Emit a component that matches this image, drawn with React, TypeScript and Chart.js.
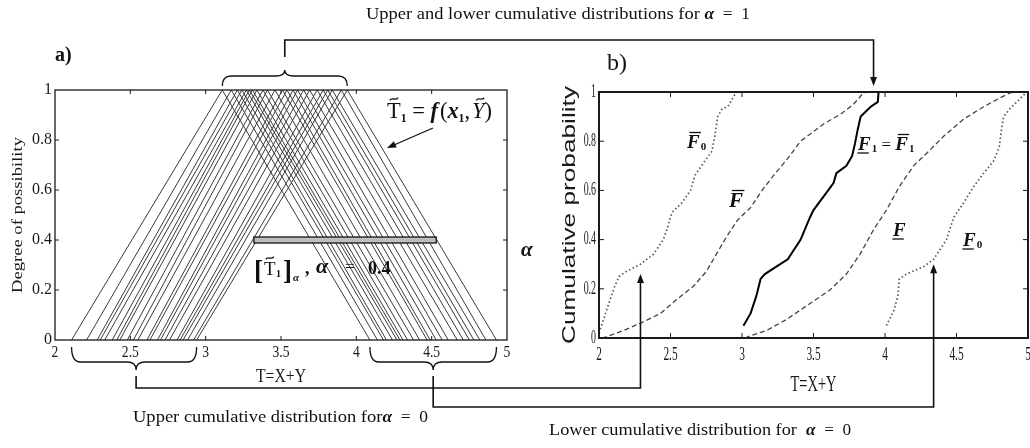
import React, { useEffect, useRef } from "react";
import { Chart, registerables } from "chart.js";

Chart.register(...registerables);

const FIG_W = 1030;
const FIG_H = 448;
const SERIF = '"Liberation Serif", "Times New Roman", serif';
const SANS = '"Liberation Sans", Arial, sans-serif';

// ---------- Panel a): triangular possibility distributions (left foot, apex, right foot) ----------
const triLeft = [2.11, 2.21, 2.28, 2.30, 2.33, 2.38, 2.41, 2.43, 2.48, 2.52, 2.55, 2.61, 2.63, 2.68, 2.70, 2.73, 2.76, 2.81, 2.83, 2.85, 2.88, 2.92, 2.94];
const triApex = [3.11, 3.17, 3.21, 3.24, 3.27, 3.29, 3.31, 3.34, 3.38, 3.41, 3.46, 3.51, 3.54, 3.58, 3.61, 3.65, 3.69, 3.74, 3.78, 3.81, 3.84, 3.90, 3.94];
const triRight = [4.09, 4.14, 4.18, 4.20, 4.24, 4.27, 4.29, 4.31, 4.34, 4.38, 4.42, 4.47, 4.49, 4.53, 4.57, 4.61, 4.67, 4.71, 4.75, 4.78, 4.82, 4.86, 4.93];
const alphaLevel = 0.4;
const alphaCut = [3.32, 4.53];

// ---------- Axis ticks ----------
const xTicks = [2, 2.5, 3, 3.5, 4, 4.5, 5];
const xTickLabels = ["2", "2.5", "3", "3.5", "4", "4.5", "5"];
const yTicks = [0, 0.2, 0.4, 0.6, 0.8, 1];
const yTickLabels = ["0", "0.2", "0.4", "0.6", "0.8", "1"];

// ---------- Panel b): cumulative distributions ----------
const upper0T = [2.00, 2.04, 2.08, 2.11, 2.14, 2.19, 2.29, 2.38, 2.45, 2.48, 2.51, 2.58, 2.64, 2.67, 2.74, 2.79, 2.81, 2.83, 2.86, 2.90, 2.95, 2.97];
const upper0P = [0.02, 0.09, 0.16, 0.21, 0.25, 0.27, 0.30, 0.34, 0.40, 0.45, 0.51, 0.55, 0.60, 0.66, 0.72, 0.76, 0.82, 0.90, 0.93, 0.94, 0.99, 1.00];

const upperT = [2.02, 2.05, 2.17, 2.29, 2.43, 2.54, 2.66, 2.75, 2.82, 2.89, 2.97, 3.06, 3.14, 3.22, 3.32, 3.41, 3.48, 3.57, 3.69, 3.78, 3.84, 3.87];
const upperP = [0.00, 0.005, 0.03, 0.06, 0.10, 0.155, 0.21, 0.27, 0.34, 0.41, 0.48, 0.53, 0.60, 0.66, 0.73, 0.80, 0.83, 0.87, 0.91, 0.95, 0.99, 1.00];

const oneT = [3.01, 3.06, 3.10, 3.13, 3.16, 3.24, 3.32, 3.41, 3.475, 3.50, 3.57, 3.64, 3.66, 3.73, 3.77, 3.79, 3.81, 3.83, 3.90, 3.95, 3.955];
const oneP = [0.05, 0.10, 0.17, 0.24, 0.26, 0.29, 0.32, 0.40, 0.49, 0.52, 0.575, 0.63, 0.67, 0.70, 0.74, 0.79, 0.85, 0.90, 0.94, 0.96, 1.00];

const lowerT = [3.02, 3.04, 3.17, 3.31, 3.475, 3.615, 3.73, 3.825, 3.92, 4.01, 4.10, 4.20, 4.29, 4.41, 4.55, 4.69, 4.80, 4.87, 4.90];
const lowerP = [0.00, 0.005, 0.03, 0.075, 0.14, 0.195, 0.26, 0.34, 0.44, 0.52, 0.615, 0.70, 0.75, 0.82, 0.89, 0.94, 0.975, 0.995, 1.00];

const lower0T = [4.01, 4.06, 4.09, 4.10, 4.15, 4.27, 4.34, 4.43, 4.48, 4.55, 4.62, 4.69, 4.76, 4.80, 4.815, 4.83, 4.87, 4.94, 4.99];
const lower0P = [0.05, 0.11, 0.17, 0.24, 0.26, 0.29, 0.32, 0.40, 0.49, 0.55, 0.615, 0.67, 0.72, 0.78, 0.85, 0.90, 0.93, 0.97, 1.00];

// Annotation anchors (in data units of panel b)
const alpha1ArrowT = 3.92;
const upperAlpha0ArrowT = 2.29;
const upperAlpha0ArrowP = 0.26;
const lowerAlpha0ArrowT = 4.34;
const lowerAlpha0ArrowP = 0.30;

// ---------- helpers ----------
function pts(xs: number[], ys: number[]) {
  return xs.map((x, i) => ({ x, y: ys[i] }));
}

function labelFor(vals: number[], labels: string[], v: number) {
  const i = vals.findIndex((t) => Math.abs(t - v) < 1e-6);
  return i >= 0 ? labels[i] : "";
}

function drawScaled(ctx: CanvasRenderingContext2D, text: string, x: number, y: number, font: string, sx: number, align: CanvasTextAlign) {
  ctx.save();
  ctx.translate(x, y);
  ctx.scale(sx, 1);
  ctx.font = font;
  ctx.textAlign = align;
  ctx.textBaseline = "middle";
  ctx.fillText(text, 0, 0);
  ctx.restore();
}

function drawFit(ctx: CanvasRenderingContext2D, text: string, x: number, y: number, font: string, width: number, rot: number) {
  ctx.save();
  ctx.font = font;
  const w = ctx.measureText(text).width;
  ctx.translate(x, y);
  ctx.rotate(rot);
  ctx.scale(width / w, 1);
  ctx.textAlign = "center";
  ctx.textBaseline = "middle";
  ctx.fillText(text, 0, 0);
  ctx.restore();
}

type Seg = { t: string; font: string; dx?: number; dy?: number; over?: boolean; under?: boolean; tilde?: boolean };

function drawRich(ctx: CanvasRenderingContext2D, segs: Seg[], x: number, y: number, opts: { width?: number; align?: "left" | "center" } = {}) {
  ctx.save();
  let total = 0;
  const widths = segs.map((s) => {
    ctx.font = s.font;
    const w = ctx.measureText(s.t).width;
    total += w + (s.dx || 0);
    return w;
  });
  const sx = opts.width ? opts.width / total : 1;
  ctx.translate(x, y);
  ctx.scale(sx, 1);
  let cx = opts.align === "center" ? -total / 2 : 0;
  ctx.textAlign = "left";
  ctx.textBaseline = "alphabetic";
  ctx.lineWidth = 1.3;
  segs.forEach((s, i) => {
    cx += s.dx || 0;
    ctx.font = s.font;
    const dy = s.dy || 0;
    ctx.fillText(s.t, cx, dy);
    const w = widths[i];
    const m = ctx.measureText(s.t);
    const asc = m.actualBoundingBoxAscent;
    if (s.over) {
      ctx.beginPath();
      ctx.moveTo(cx + w * 0.2, dy - asc - 2.5);
      ctx.lineTo(cx + w * 1.1, dy - asc - 2.5);
      ctx.stroke();
    }
    if (s.under) {
      ctx.beginPath();
      ctx.moveTo(cx - w * 0.05, dy + 3);
      ctx.lineTo(cx + w * 0.85, dy + 3);
      ctx.stroke();
    }
    if (s.tilde) {
      const ww = Math.max(8, w * 0.6);
      const x0 = cx + w / 2 - ww / 2 + (s.font.includes("italic") ? 2 : 0);
      const ty = dy - asc - 4;
      ctx.beginPath();
      ctx.moveTo(x0, ty + 1.4);
      ctx.bezierCurveTo(x0 + ww * 0.3, ty - 3, x0 + ww * 0.7, ty + 3, x0 + ww, ty - 1.4);
      ctx.stroke();
    }
    cx += w;
  });
  ctx.restore();
}

function brace(ctx: CanvasRenderingContext2D, x1: number, x2: number, yEnd: number, yBody: number, yTip: number, xm?: number) {
  const m = xm ?? (x1 + x2) / 2;
  const r = Math.min(9, (x2 - x1) / 6);
  ctx.beginPath();
  ctx.moveTo(x1, yEnd);
  ctx.quadraticCurveTo(x1, yBody, x1 + r, yBody);
  ctx.lineTo(m - r, yBody);
  ctx.quadraticCurveTo(m, yBody, m, yTip);
  ctx.quadraticCurveTo(m, yBody, m + r, yBody);
  ctx.lineTo(x2 - r, yBody);
  ctx.quadraticCurveTo(x2, yBody, x2, yEnd);
  ctx.stroke();
}

function arrowHead(ctx: CanvasRenderingContext2D, x: number, y: number, dirX: number, dirY: number, len = 9, half = 3.5) {
  const n = Math.hypot(dirX, dirY);
  const ux = dirX / n, uy = dirY / n;
  ctx.beginPath();
  ctx.moveTo(x, y);
  ctx.lineTo(x - ux * len - uy * half, y - uy * len + ux * half);
  ctx.lineTo(x - ux * len + uy * half, y - uy * len - ux * half);
  ctx.closePath();
  ctx.fill();
}

type FrameCfg = {
  frameWidth: number;
  tickLen: number;
  xLabelDy: number;
  xFont: string;
  xSx: number;
  yLabelGap: number;
  yFont: string;
  ySx: number;
  xTitle: string;
  xTitleDy: number;
  xTitleFont: string;
  xTitleWidth: number;
  yTitle: string;
  yTitleX: number;
  yTitleFont: string;
  yTitleWidth: number;
};

function makeFrame(cfg: FrameCfg) {
  return {
    id: "matlabFrame",
    afterDraw(chart: any) {
      const { ctx, chartArea } = chart;
      const { left, right, top, bottom } = chartArea;
      const xs = chart.scales.x;
      const ys = chart.scales.y;
      ctx.save();
      ctx.strokeStyle = "#1a1a1a";
      ctx.fillStyle = "#1a1a1a";
      ctx.lineWidth = 1;
      ctx.beginPath();
      for (const t of xs.ticks) {
        const p = xs.getPixelForValue(t.value);
        if (p < left + 2 || p > right - 2) continue;
        ctx.moveTo(p, bottom);
        ctx.lineTo(p, bottom - cfg.tickLen);
        ctx.moveTo(p, top);
        ctx.lineTo(p, top + cfg.tickLen);
      }
      for (const t of ys.ticks) {
        const p = ys.getPixelForValue(t.value);
        if (p < top + 2 || p > bottom - 2) continue;
        ctx.moveTo(left, p);
        ctx.lineTo(left + cfg.tickLen, p);
        ctx.moveTo(right, p);
        ctx.lineTo(right - cfg.tickLen, p);
      }
      ctx.stroke();
      ctx.lineWidth = cfg.frameWidth;
      ctx.strokeRect(left, top, right - left, bottom - top);
      for (const t of xs.ticks) {
        const p = xs.getPixelForValue(t.value);
        drawScaled(ctx, labelFor(xTicks, xTickLabels, t.value), p, bottom + cfg.xLabelDy, cfg.xFont, cfg.xSx, "center");
      }
      for (const t of ys.ticks) {
        const p = ys.getPixelForValue(t.value);
        drawScaled(ctx, labelFor(yTicks, yTickLabels, t.value), left - cfg.yLabelGap, p, cfg.yFont, cfg.ySx, "right");
      }
      drawFit(ctx, cfg.xTitle, (left + right) / 2, bottom + cfg.xTitleDy, cfg.xTitleFont, cfg.xTitleWidth, 0);
      drawFit(ctx, cfg.yTitle, cfg.yTitleX, (top + bottom) / 2, cfg.yTitleFont, cfg.yTitleWidth, -Math.PI / 2);
      ctx.restore();
    },
  };
}

function baseScales(xH: number, yW: number) {
  return {
    x: {
      type: "linear" as const,
      min: 2,
      max: 5,
      grid: { display: false },
      border: { display: false },
      ticks: { display: false, stepSize: 0.5 },
      afterFit: (s: any) => {
        s.height = xH;
      },
    },
    y: {
      type: "linear" as const,
      min: 0,
      max: 1,
      grid: { display: false },
      border: { display: false },
      ticks: { display: false, stepSize: 0.2 },
      afterFit: (s: any) => {
        s.width = yW;
      },
    },
  };
}

function drawOverlay(ctx: CanvasRenderingContext2D, A: any, B: any) {
  const ax = (v: number) => A.scales.x.getPixelForValue(v);
  const ay = (v: number) => A.scales.y.getPixelForValue(v);
  const bx = (v: number) => B.scales.x.getPixelForValue(v);
  const by = (v: number) => B.scales.y.getPixelForValue(v);
  const aTop = A.chartArea.top;
  const aBottom = A.chartArea.bottom;
  const bTop = B.chartArea.top;

  ctx.clearRect(0, 0, FIG_W, FIG_H);
  ctx.strokeStyle = "#111";
  ctx.fillStyle = "#111";
  ctx.lineJoin = "miter";

  // alpha-cut bar
  const yb = ay(alphaLevel);
  const xb1 = ax(alphaCut[0]);
  const xb2 = ax(alphaCut[1]);
  ctx.fillStyle = "#bdbdbd";
  ctx.fillRect(xb1, yb - 3, xb2 - xb1, 6);
  ctx.lineWidth = 1.3;
  ctx.strokeStyle = "#111";
  ctx.strokeRect(xb1, yb - 3, xb2 - xb1, 6);
  ctx.fillStyle = "#111";

  // top brace + connector (alpha = 1)
  ctx.lineWidth = 1.3;
  const apMin = ax(Math.min(...triApex));
  const apMax = ax(Math.max(...triApex));
  const apMid = (apMin + apMax) / 2;
  brace(ctx, apMin, apMax, aTop - 4, aTop - 14, aTop - 20);
  ctx.lineWidth = 1.6;
  const topY = 40;
  const xArrow1 = bx(alpha1ArrowT);
  ctx.beginPath();
  ctx.moveTo(apMid, aTop - 33);
  ctx.lineTo(apMid, topY);
  ctx.lineTo(xArrow1, topY);
  ctx.lineTo(xArrow1, bTop - 14);
  ctx.stroke();
  arrowHead(ctx, xArrow1, bTop - 6, 0, 1);

  // bottom braces + connectors (alpha = 0)
  ctx.lineWidth = 1.3;
  const l1 = ax(Math.min(...triLeft));
  const l2 = ax(Math.max(...triLeft));
  const r1 = ax(Math.min(...triRight));
  const r2 = ax(Math.max(...triRight));
  const lm = (l1 + l2) / 2 + 2;
  const rm = (r1 + r2) / 2;
  brace(ctx, l1, l2, aBottom + 7, aBottom + 22, aBottom + 30, lm);
  brace(ctx, r1, r2, aBottom + 7, aBottom + 22, aBottom + 30, rm);

  ctx.lineWidth = 1.6;
  const xa2 = bx(upperAlpha0ArrowT);
  const ya2 = by(upperAlpha0ArrowP);
  ctx.beginPath();
  ctx.moveTo(lm, aBottom + 36);
  ctx.lineTo(lm, 388);
  ctx.lineTo(xa2, 388);
  ctx.lineTo(xa2, ya2 + 8);
  ctx.stroke();
  arrowHead(ctx, xa2, ya2, 0, -1);

  const xa3 = bx(lowerAlpha0ArrowT);
  const ya3 = by(lowerAlpha0ArrowP);
  ctx.beginPath();
  ctx.moveTo(rm, aBottom + 36);
  ctx.lineTo(rm, 407);
  ctx.lineTo(xa3, 407);
  ctx.lineTo(xa3, ya3 + 8);
  ctx.stroke();
  arrowHead(ctx, xa3, ya3, 0, -1);

  // arrow pointing at the triangles
  ctx.lineWidth = 1.3;
  ctx.beginPath();
  ctx.moveTo(433, 128);
  ctx.lineTo(394, 145);
  ctx.stroke();
  arrowHead(ctx, 387, 148, -39, 17, 9, 3.5);

  // texts
  ctx.fillStyle = "#111";
  ctx.strokeStyle = "#111";
  drawRich(
    ctx,
    [
      { t: "Upper and lower cumulative distributions for ", font: `17px ${SERIF}` },
      { t: "α", font: `italic bold 16px ${SERIF}` },
      { t: "  =  1", font: `16px ${SERIF}` },
    ],
    366,
    19,
    { width: 384 }
  );
  drawRich(
    ctx,
    [
      { t: "Upper cumulative distribution for", font: `17px ${SERIF}` },
      { t: "α", font: `italic bold 16px ${SERIF}` },
      { t: "  =  0", font: `16px ${SERIF}` },
    ],
    133,
    422,
    { width: 295 }
  );
  drawRich(
    ctx,
    [
      { t: "Lower cumulative distribution for  ", font: `17px ${SERIF}` },
      { t: "α", font: `italic bold 16px ${SERIF}` },
      { t: "  =  0", font: `16px ${SERIF}` },
    ],
    549,
    435,
    { width: 302 }
  );

  drawRich(ctx, [{ t: "a)", font: `bold 20px ${SERIF}` }], 55, 61);
  drawRich(ctx, [{ t: "b)", font: `24px ${SERIF}` }], 607, 70);
  drawRich(ctx, [{ t: "α", font: `bold italic 21px ${SERIF}` }], 521, 256);

  // T~1 = f(x1, Y~)
  drawRich(
    ctx,
    [
      { t: "T", font: `23px ${SERIF}`, tilde: true },
      { t: "1", font: `bold 12px ${SERIF}`, dy: 4 },
      { t: " = ", font: `23px ${SERIF}` },
      { t: "f", font: `italic bold 23px ${SERIF}` },
      { t: "(", font: `23px ${SERIF}`, dx: 2 },
      { t: "x", font: `italic bold 23px ${SERIF}` },
      { t: "1", font: `bold 12px ${SERIF}`, dy: 4 },
      { t: ",", font: `23px ${SERIF}` },
      { t: "Y", font: `italic 23px ${SERIF}`, tilde: true, dx: 2 },
      { t: ")", font: `23px ${SERIF}` },
    ],
    387,
    118,
    { width: 105 }
  );

  // [T~1]_alpha , alpha = 0.4
  drawRich(ctx, [{ t: "[", font: `bold 27px ${SERIF}` }], 254, 279);
  drawRich(ctx, [{ t: "T", font: `19px ${SERIF}`, tilde: true }], 264, 275);
  drawRich(ctx, [{ t: "1", font: `bold 10px ${SERIF}` }], 276, 277);
  drawRich(ctx, [{ t: "]", font: `bold 27px ${SERIF}` }], 283, 279);
  drawRich(ctx, [{ t: "α", font: `bold italic 11px ${SERIF}` }], 293, 281);
  drawRich(ctx, [{ t: ",", font: `bold 18px ${SERIF}` }], 305, 274);
  drawRich(ctx, [{ t: "α", font: `bold italic 22px ${SERIF}` }], 316, 273);
  drawRich(ctx, [{ t: "=", font: `17px ${SERIF}` }], 345, 272);
  drawRich(ctx, [{ t: "0.4", font: `bold 18px ${SERIF}` }], 368, 274);

  // curve labels in panel b)
  const FI = (s: number) => `bold italic ${s}px ${SERIF}`;
  const SUB = `bold 11px ${SERIF}`;
  drawRich(ctx, [{ t: "F", font: FI(19), over: true }, { t: "0", font: SUB, dy: 2, dx: 1 }], 687, 148);
  drawRich(ctx, [{ t: "F", font: FI(21), over: true }], 729, 207);
  drawRich(
    ctx,
    [
      { t: "F", font: FI(19), under: true },
      { t: "1", font: SUB, dy: 2, dx: 1 },
      { t: " = ", font: `17px ${SERIF}` },
      { t: "F", font: FI(19), over: true },
      { t: "1", font: SUB, dy: 2, dx: 1 },
    ],
    858,
    150
  );
  drawRich(ctx, [{ t: "F", font: FI(19), under: true }], 893, 236);
  drawRich(ctx, [{ t: "F", font: FI(19), under: true }, { t: "0", font: SUB, dy: 2, dx: 1 }], 963, 246);
}

export default function App() {
  const aRef = useRef<HTMLCanvasElement>(null);
  const bRef = useRef<HTMLCanvasElement>(null);
  const oRef = useRef<HTMLCanvasElement>(null);

  useEffect(() => {
    const triData = triApex.map((b, i) => ({
      data: [
        { x: triLeft[i], y: 0 },
        { x: b, y: 1 },
        { x: triRight[i], y: 0 },
      ],
      borderColor: "#3a3a3a",
      borderWidth: 1,
      pointRadius: 0,
      fill: false,
      tension: 0,
    }));

    const A = new Chart(aRef.current!, {
      type: "line",
      data: { datasets: triData as any },
      options: {
        responsive: false,
        animation: false,
        events: [],
        layout: { padding: { left: 0, top: 90, right: FIG_W - 507, bottom: FIG_H - 340 - 46 } },
        plugins: { legend: { display: false }, tooltip: { enabled: false } },
        scales: baseScales(46, 55) as any,
      },
      plugins: [
        makeFrame({
          frameWidth: 1.3,
          tickLen: 4,
          xLabelDy: 13,
          xFont: `16px ${SERIF}`,
          xSx: 0.85,
          yLabelGap: 3,
          yFont: `16px ${SERIF}`,
          ySx: 1,
          xTitle: "T=X+Y",
          xTitleDy: 37,
          xTitleFont: `18px ${SERIF}`,
          xTitleWidth: 50,
          yTitle: "Degree of possibility",
          yTitleX: 18,
          yTitleFont: `15px ${SERIF}`,
          yTitleWidth: 156,
        }) as any,
      ],
    });

    const B = new Chart(bRef.current!, {
      type: "line",
      data: {
        datasets: [
          { data: pts(upper0T, upper0P), borderColor: "#555", borderWidth: 1.7, borderDash: [1.5, 2.5], pointRadius: 0, tension: 0 },
          { data: pts(upperT, upperP), borderColor: "#444", borderWidth: 1.3, borderDash: [5, 3], pointRadius: 0, tension: 0 },
          { data: pts(oneT, oneP), borderColor: "#000", borderWidth: 2, pointRadius: 0, tension: 0 },
          { data: pts(lowerT, lowerP), borderColor: "#444", borderWidth: 1.3, borderDash: [5, 3], pointRadius: 0, tension: 0 },
          { data: pts(lower0T, lower0P), borderColor: "#555", borderWidth: 1.7, borderDash: [1.5, 2.5], pointRadius: 0, tension: 0 },
        ] as any,
      },
      options: {
        responsive: false,
        animation: false,
        events: [],
        layout: { padding: { left: 559, top: 92, right: FIG_W - 1028, bottom: FIG_H - 338 - 50 } },
        plugins: { legend: { display: false }, tooltip: { enabled: false } },
        scales: baseScales(50, 40) as any,
      },
      plugins: [
        makeFrame({
          frameWidth: 2,
          tickLen: 5,
          xLabelDy: 17,
          xFont: `19px ${SERIF}`,
          xSx: 0.6,
          yLabelGap: 3,
          yFont: `18px ${SERIF}`,
          ySx: 0.55,
          xTitle: "T=X+Y",
          xTitleDy: 47,
          xTitleFont: `24px ${SERIF}`,
          xTitleWidth: 46,
          yTitle: "Cumulative probability",
          yTitleX: 570,
          yTitleFont: `18px ${SANS}`,
          yTitleWidth: 258,
        }) as any,
      ],
    });

    const octx = oRef.current!.getContext("2d")!;
    drawOverlay(octx, A, B);

    return () => {
      A.destroy();
      B.destroy();
      octx.clearRect(0, 0, FIG_W, FIG_H);
    };
  }, []);

  const cs: React.CSSProperties = { position: "absolute", left: 0, top: 0, width: FIG_W, height: FIG_H };
  return (
    <div style={{ position: "absolute", left: 0, top: 0, width: FIG_W, height: FIG_H, background: "#fff", overflow: "hidden" }}>
      <canvas ref={aRef} width={FIG_W} height={FIG_H} style={cs} />
      <canvas ref={bRef} width={FIG_W} height={FIG_H} style={cs} />
      <canvas ref={oRef} width={FIG_W} height={FIG_H} style={{ ...cs, pointerEvents: "none" }} />
    </div>
  );
}
